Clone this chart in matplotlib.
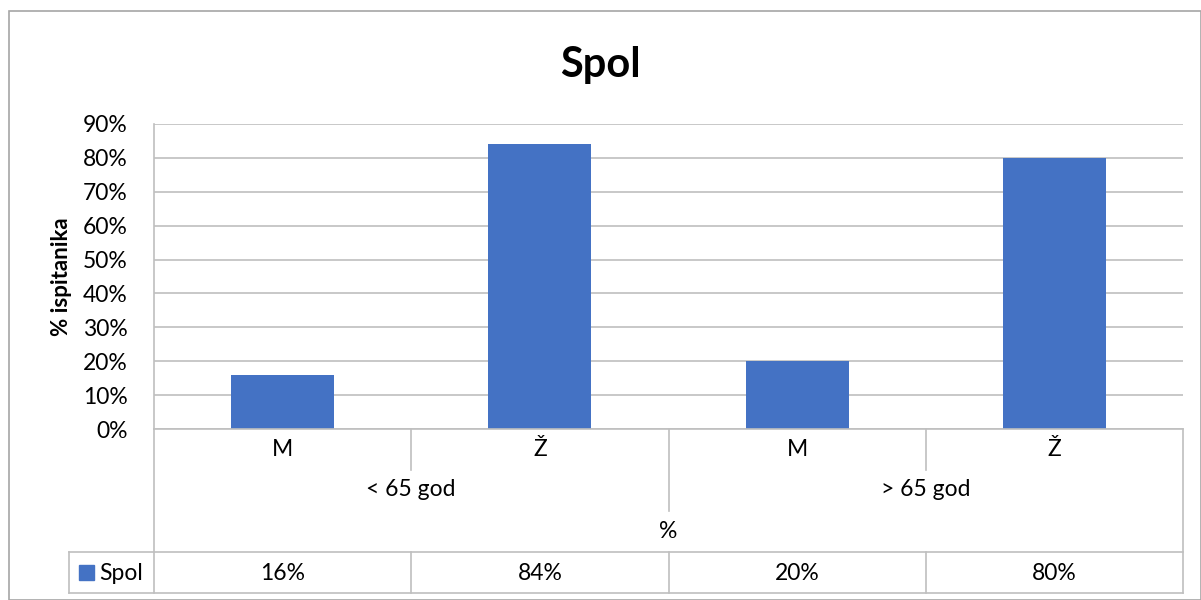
import matplotlib.pyplot as plt
from matplotlib.lines import Line2D
from matplotlib.patches import Rectangle

plt.rcParams['font.family'] = ['Lato', 'DejaVu Sans']

# data
groups = ['< 65 god', '> 65 god']
sexes = ['M', 'Ž']
values = [16, 84, 20, 80]     # % ispitanika, order: <65 M, <65 Ž, >65 M, >65 Ž
series_name = 'Spol'
yticks = [0, 10, 20, 30, 40, 50, 60, 70, 80, 90]

W, H = 1201, 600
bar_color = '#4472C4'
grid_color = '#BFBFBF'
line_color = '#A6A6A6'
fs = 16.5

fig = plt.figure(figsize=(W / 100, H / 100), dpi=100)


def fx(x):
    return x / W


def fy(y):
    return 1 - y / H


def hline(x0, x1, y, c=grid_color):
    fig.add_artist(Line2D([fx(x0), fx(x1)], [fy(y), fy(y)], color=c, lw=1.2))


def vline(x, y0, y1, c=grid_color):
    fig.add_artist(Line2D([fx(x), fx(x)], [fy(y0), fy(y1)], color=c, lw=1.2))


# plot area
left, right, top, base = 154, 1183, 124, 429
ax = fig.add_axes([fx(left), fy(base), fx(right - left), (base - top) / H])
n = len(values)
xs = list(range(n))
ax.bar(xs, values, width=0.4, color=bar_color, zorder=3)
ax.set_xlim(-0.5, n - 0.5)
ax.set_ylim(0, 90)
ax.set_yticks(yticks)
ax.set_yticklabels([f'{t}%' for t in yticks], fontsize=fs)
ax.tick_params(axis='y', length=0, pad=19)
ax.set_xticks([])
ax.grid(axis='y', color=grid_color, lw=1.2, zorder=0)
for s in ['top', 'right', 'bottom']:
    ax.spines[s].set_visible(False)
ax.spines['left'].set_color(grid_color)
ax.spines['left'].set_linewidth(1.2)
ax.set_ylabel('% ispitanika', fontsize=16, fontweight='bold')
ax.yaxis.set_label_coords(-0.080, 0.5)

fig.suptitle('Spol', fontsize=30, fontweight='bold', y=fy(65), va='center')

# category axis / data table
colw = (right - left) / n
table_top, table_bot = 552, 593
hline(left, right, base)
vline(left, base, table_bot)
vline(right, base, table_bot)
for i in range(1, n):
    x = left + i * colw
    if i % 2 == 0:
        vline(x, base, 511)
    else:
        vline(x, base, 470)
hline(69, right, table_top)
hline(69, right, table_bot)
vline(69, table_top, table_bot)
for i in range(1, n):
    vline(left + i * colw, table_top, table_bot)

for i, v in enumerate(values):
    cx = left + (i + 0.5) * colw
    fig.text(fx(cx), fy(450), sexes[i % 2], ha='center', va='center', fontsize=fs)
    fig.text(fx(cx), fy(573), f'{v}%', ha='center', va='center', fontsize=fs)
for g, name in enumerate(groups):
    cx = left + (2 * g + 1) * colw
    fig.text(fx(cx), fy(490), name, ha='center', va='center', fontsize=fs)
fig.text(fx((left + right) / 2), fy(531), '%', ha='center', va='center', fontsize=fs)

# legend key in the table
fig.add_artist(Rectangle((fx(79), fy(580)), fx(15), 15 / H, color=bar_color))
fig.text(fx(99), fy(573), series_name, ha='left', va='center', fontsize=fs)

# chart border
fig.add_artist(Rectangle((fx(9), fy(600)), fx(1192), 589 / H, fill=False,
                         edgecolor=line_color, lw=1.2))

fig.savefig('out.png', dpi=100)
